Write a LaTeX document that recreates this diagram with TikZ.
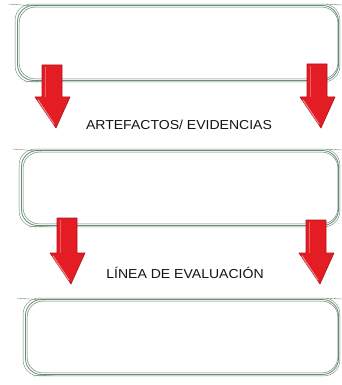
\documentclass[tikz,border=0pt]{standalone}
\usepackage{fontspec}
\setmainfont{Liberation Sans}
\begin{document}
\begin{tikzpicture}[x=1pt,y=-1pt,
  skline/.style={draw={rgb,255:red,105;green,140;blue,115}, line width=0.8pt, rounded corners=16pt},
  skbox/.style={skline, rectangle, minimum width=#1, minimum height=75pt, inner sep=0pt},
  arrowred/.style={fill={rgb,255:red,228;green,28;blue,36}, draw={rgb,255:red,175;green,20;blue,28}, line width=0.6pt, line join=round},
  lbl/.style={font=\fontsize{13}{15}\selectfont, xscale=1.08, text={rgb,255:red,20;green,20;blue,20}, inner sep=0pt}
]
\useasboundingbox (0,0) rectangle (341,385);
\fill[white] (0,0) rectangle (341,385);

% boxes
\node[skbox=321pt] (b1) at (178,43) {};
\node[skbox=317pt] (b2) at (180,188) {};
\node[skbox=313pt] (b3) at (182,337) {};
\foreach \b in {b1,b2,b3}{
  \draw[skline, line width=0.5pt] ([shift={(2,-2)}]\b.south west) rectangle ([shift={(-1,2)}]\b.north east);
  \draw[skline, line width=0.4pt] ([shift={(-2,1)}]\b.south west) rectangle ([shift={(1,-1)}]\b.north east);
  \draw[skline, line width=0.4pt, rounded corners=0pt] ([shift={(-8,-1)}]\b.north west) -- ([shift={(20,1)}]\b.north west);
  \draw[skline, line width=0.4pt, rounded corners=0pt] ([shift={(-12,-1)}]\b.north east) -- ([shift={(4,0)}]\b.north east);
  \draw[skline, line width=0.4pt, rounded corners=0pt] ([shift={(8,1)}]\b.south west) -- ([shift={(30,0)}]\b.south west);
}

% arrows
\coordinate (a1l) at (52,65);
\coordinate (a1r) at (317,64);
\coordinate (a2l) at (67,218);
\coordinate (a2r) at (316,220);
\foreach \a/\h in {a1l/32,a1r/33,a2l/35,a2r/33}{
  \draw[arrowred] ([shift={(-10,0)}]\a) -- ([shift={(10,0)}]\a) -- ([shift={(10,\h)}]\a) -- ([shift={(18,\h)}]\a)
     -- ([shift={(4,\h+31)}]\a) -- ([shift={(-17,\h)}]\a) -- ([shift={(-10,\h)}]\a) -- cycle;
  \draw[white, opacity=0.45, line width=1.2pt, line cap=round] ([shift={(-14,\h+3)}]\a) -- ([shift={(2,\h+27)}]\a);
  \draw[white, opacity=0.3, line width=1pt] ([shift={(-7,2)}]\a) -- ([shift={(-7,\h)}]\a);
}

% labels
\node[lbl] (t1) at (179,125) {ARTEFACTOS/ EVIDENCIAS};
\node[lbl] (t2) at (185,273) {LÍNEA DE EVALUACIÓN};
\end{tikzpicture}
\end{document}
